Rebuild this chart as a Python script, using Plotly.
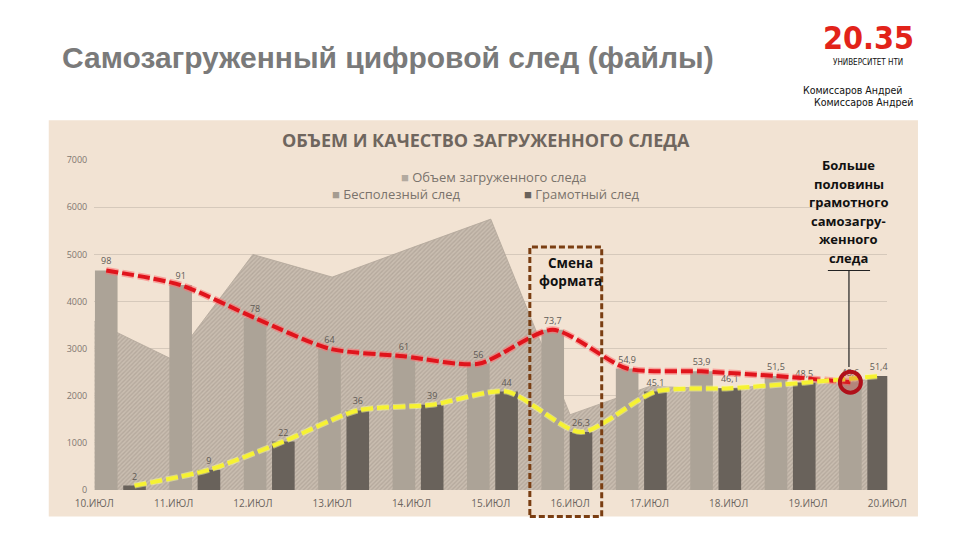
import plotly.graph_objects as go

# ---------------- data ----------------
dates = ["10.ИЮЛ", "11.ИЮЛ", "12.ИЮЛ", "13.ИЮЛ", "14.ИЮЛ", "15.ИЮЛ",
         "16.ИЮЛ", "17.ИЮЛ", "18.ИЮЛ", "19.ИЮЛ", "20.ИЮЛ"]
volume = [3580, 2760, 5000, 4520, 5140, 5750, 1600, 2200, 2150, 2300, 2350]
useless = [4660, 4350, 3650, 3000, 2840, 2680, 3400, 2580, 2520, 2420, 2290]
literate = [95, 430, 1030, 1690, 1810, 2090, 1230, 2090, 2160, 2280, 2420]
useless_pct = ["98", "91", "78", "64", "61", "56", "73,7", "54,9", "53,9", "51,5", "48,6"]
literate_pct = ["2", "9", "22", "36", "39", "44", "26,3", "45.1", "46,1", "48,5", "51,4"]
y_ticks = [0, 1000, 2000, 3000, 4000, 5000, 6000, 7000]

names = ["Объем загруженного следа", "Бесполезный след", "Грамотный след"]
title_main = "Самозагруженный цифровой след (файлы)"
chart_title = "ОБЪЕМ И КАЧЕСТВО ЗАГРУЖЕННОГО СЛЕДА"
note_lines = ["Больше", "половины", "грамотного", "самозагру-", "женного", "следа"]
box_lines = ["Смена", "формата"]

W, H = 960, 540
NARROW = "DejaVu Sans Condensed, Roboto, sans-serif"


def px(x):
    return x / W


def py(y):
    return 1 - y / H


fig = go.Figure()

# hatched area (base axes, drawn beneath the bars)
fig.add_trace(go.Scatter(
    x=dates, y=volume, name=names[0], mode="lines", fill="tozeroy",
    line=dict(color="#B3A79A", width=0.8),
    fillcolor="#C4B8AB",
    fillpattern=dict(shape="/", fgcolor="#A2968A", bgcolor="#C9BDB0", size=3, solidity=0.45),
    xaxis="x", yaxis="y", showlegend=False, hoverinfo="skip"))

# grouped bars (overlay axis)
fig.add_trace(go.Bar(
    x=dates, y=useless, name=names[1], offsetgroup="a",
    marker=dict(color="#ACA397", line=dict(width=0)),
    text=useless_pct, textposition="outside", cliponaxis=False,
    textfont=dict(family="Open Sans", size=9, color="#5F5A55"),
    xaxis="x2", yaxis="y", showlegend=False))
fig.add_trace(go.Bar(
    x=dates, y=literate, name=names[2], offsetgroup="b",
    marker=dict(color="#69625B", line=dict(width=0)),
    text=literate_pct, textposition="outside", cliponaxis=False,
    textfont=dict(family="Open Sans", size=9, color="#5F5A55"),
    xaxis="x2", yaxis="y", showlegend=False))

# trend lines through bar tops
fig.add_trace(go.Scatter(
    x=dates, y=useless, mode="lines", offsetgroup="a",
    line=dict(color="rgba(255,110,110,0.55)", width=7, dash="12px,4px", shape="spline", smoothing=0.7),
    xaxis="x2", yaxis="y", showlegend=False, hoverinfo="skip"))
fig.add_trace(go.Scatter(
    x=dates, y=useless, mode="lines", offsetgroup="a",
    line=dict(color="#E0141C", width=4, dash="12px,4px", shape="spline", smoothing=0.7),
    xaxis="x2", yaxis="y", showlegend=False, hoverinfo="skip"))
fig.add_trace(go.Scatter(
    x=dates, y=literate, mode="lines", offsetgroup="b",
    line=dict(color="rgba(255,255,150,0.5)", width=6, dash="12px,4px", shape="spline", smoothing=0.7),
    xaxis="x2", yaxis="y", showlegend=False, hoverinfo="skip"))
fig.add_trace(go.Scatter(
    x=dates, y=literate, mode="lines", offsetgroup="b",
    line=dict(color="#F6F232", width=4, dash="12px,4px", shape="spline", smoothing=0.7),
    xaxis="x2", yaxis="y", showlegend=False, hoverinfo="skip"))
# highlight circle on the last point
fig.add_trace(go.Scatter(
    x=dates[-1:], y=useless[-1:], mode="markers", offsetgroup="a",
    marker=dict(symbol="circle", size=21, color="rgba(200,40,40,0.25)",
                line=dict(color="#B0101A", width=4)),
    xaxis="x2", yaxis="y", showlegend=False, hoverinfo="skip"))

shapes = [
    dict(type="rect", xref="paper", yref="paper", x0=px(30), x1=px(937), y0=py(522), y1=py(116),
         fillcolor="#F2E3D3", line=dict(width=0), layer="below"),
    dict(type="rect", xref="paper", yref="paper", x0=px(532), x1=px(607), y0=py(522), y1=py(246),
         fillcolor="rgba(0,0,0,0)", line=dict(color="#7A3E12", width=3, dash="6px,3px")),
    dict(type="line", xref="paper", yref="paper", x0=px(843), x1=px(887), y0=py(270), y1=py(270),
         line=dict(color="#222222", width=1.2)),
    dict(type="line", xref="paper", yref="paper", x0=px(865), x1=px(865), y0=py(270), y1=py(369),
         line=dict(color="#222222", width=1.2)),
]

annotations = [
    dict(text=f"<b>{title_main}</b>", x=px(42), y=py(52), xanchor="left", yanchor="middle",
         font=dict(family="Liberation Sans", size=30, color="#7A7A7A")),
    dict(text=f"<b>{chart_title}</b>", x=px(486), y=py(136), xanchor="center", yanchor="middle",
         font=dict(family="Open Sans", size=18, color="#6F665E")),
    dict(text=f'<span style="color:#B3AA9F">■</span> {names[0]}', x=px(395), y=py(174),
         xanchor="left", yanchor="middle", font=dict(family="Open Sans", size=13, color="#7A736C")),
    dict(text=f'<span style="color:#A59C91">■</span> {names[1]}', x=px(323), y=py(192),
         xanchor="left", yanchor="middle", font=dict(family="Open Sans", size=13, color="#7A736C")),
    dict(text=f'<span style="color:#69625B">■</span> {names[2]}', x=px(524), y=py(192),
         xanchor="left", yanchor="middle", font=dict(family="Open Sans", size=13, color="#7A736C")),
    dict(text="<b>20.35</b>", x=px(885), y=py(32), xanchor="center", yanchor="middle",
         font=dict(family=NARROW, size=32, color="#E2231A")),
    dict(text="УНИВЕРСИТЕТ НТИ", x=px(885), y=py(57), xanchor="center", yanchor="middle",
         font=dict(family=NARROW, size=8, color="#111111")),
    dict(text="Комиссаров Андрей", x=px(922), y=py(85), xanchor="right", yanchor="middle",
         font=dict(family=NARROW, size=10.5, color="#111111")),
    dict(text="Комиссаров Андрей", x=px(934), y=py(97), xanchor="right", yanchor="middle",
         font=dict(family=NARROW, size=10.5, color="#111111")),
]
for i, t in enumerate(note_lines):
    annotations.append(dict(text=f"<b>{t}</b>", x=px(865), y=py(162 + 19 * i), xanchor="center",
                            yanchor="middle", font=dict(family="Open Sans", size=13, color="#111111")))
for i, t in enumerate(box_lines):
    annotations.append(dict(text=f"<b>{t}</b>", x=px(574), y=py(262 + 19 * i), xanchor="center",
                            yanchor="middle", font=dict(family="Open Sans", size=13.5, color="#111111")))
for a in annotations:
    a.update(xref="paper", yref="paper", showarrow=False)

fig.update_layout(
    width=W, height=H, autosize=False,
    margin=dict(l=0, r=0, t=0, b=0),
    paper_bgcolor="white", plot_bgcolor="rgba(0,0,0,0)",
    barmode="group", bargap=0.24, bargroupgap=0.2,
    scattermode="group", scattergap=0.24,
    showlegend=False,
    xaxis=dict(type="category", domain=[px(77.5), px(905)], range=[0, 10],
               showgrid=False, zeroline=False, showline=False,
               ticks="outside", ticklen=4, tickcolor="rgba(0,0,0,0)",
               tickfont=dict(family="Open Sans", size=10, color="#6B655F")),
    xaxis2=dict(type="category", overlaying="x", anchor="y", range=[-0.351, 10.306],
                visible=False),
    yaxis=dict(domain=[py(495), py(157)], range=[0, 7000], tickvals=y_ticks,
               showgrid=True, gridcolor="#D6C9BB", gridwidth=1, zeroline=False, showline=False,
               ticklabelstandoff=6,
               tickfont=dict(family="Open Sans", size=9, color="#7F7770")),
    shapes=shapes, annotations=annotations,
)

fig.write_html("out.html", config={"displayModeBar": False})
